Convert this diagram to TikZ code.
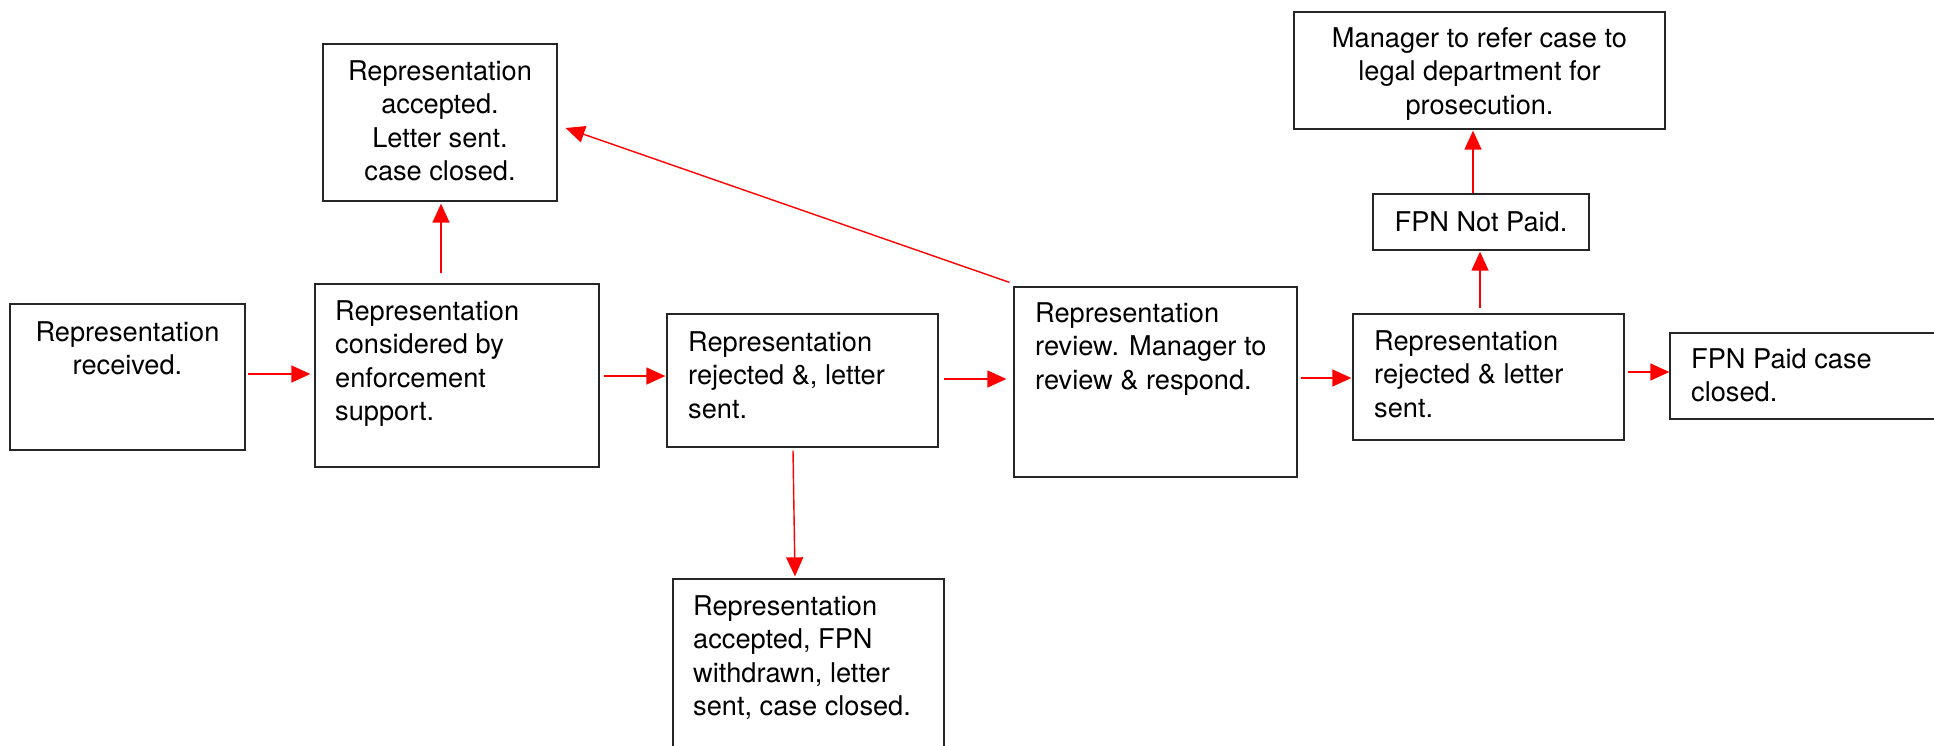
\documentclass[tikz,border=0pt]{standalone}
\usepackage{fontspec}
\setmainfont{TeX Gyre Heros}
\usetikzlibrary{arrows.meta,calc}
\tikzset{
  box/.style={draw=black!85, line width=1.3pt, inner sep=0pt, rectangle},
  txt/.style={inner sep=0pt, font=\fontsize{27.2}{33.5}\selectfont},
  arr/.style={draw=red, line width=1.4pt, -{Triangle[length=19pt,width=17pt]}, fill=red}
}
\newcommand{\linesL}[1]{\begin{tabular}[t]{@{}l@{}}#1\end{tabular}}
\newcommand{\linesC}[1]{\begin{tabular}[t]{@{}c@{}}#1\end{tabular}}
\begin{document}
\begin{tikzpicture}[x=1pt,y=-1pt]
\useasboundingbox (0,0) rectangle (1934,745);
\clip (0,0) rectangle (1934,745);
% boxes
\node[box, minimum width=235pt, minimum height=146pt] (b1) at (127.5,377) {};
\node[box, minimum width=284pt, minimum height=183pt] (b2) at (457,375.5) {};
\node[box, minimum width=234pt, minimum height=157pt] (b3) at (440,122.5) {};
\node[box, minimum width=271pt, minimum height=133pt] (b4) at (802.5,380.5) {};
\node[box, minimum width=271pt, minimum height=221pt] (b5) at (808.5,689.5) {};
\node[box, minimum width=283pt, minimum height=190pt] (b6) at (1155.5,382) {};
\node[box, minimum width=271pt, minimum height=126pt] (b7) at (1488.5,377) {};
\node[box, minimum width=330pt, minimum height=86pt] (b8) at (1835,376) {};
\node[box, minimum width=216pt, minimum height=56pt] (b9) at (1481,222) {};
\node[box, minimum width=371pt, minimum height=117pt] (b10) at (1479.5,70.5) {};
% texts
\node[txt, anchor=base] (t1) at (127.5,341) {\linesC{Representation\\received.}};
\node[txt, anchor=base west] (t2) at (335,320) {\linesL{Representation\\considered by\\enforcement\\support.}};
\node[txt, anchor=base] (t3) at (440,80) {\linesC{Representation\\accepted.\\Letter sent.\\case closed.}};
\node[txt, anchor=base west] (t4) at (688,351) {\linesL{Representation\\rejected \&, letter\\sent.}};
\node[txt, anchor=base west] (t5) at (693,615) {\linesL{Representation\\accepted, FPN\\withdrawn, letter\\sent, case closed.}};
\node[txt, anchor=base west] (t6) at (1035,322) {\linesL{Representation\\review. Manager to\\review \& respond.}};
\node[txt, anchor=base west] (t7) at (1374,350) {\linesL{Representation\\rejected \& letter\\sent.}};
\node[txt, anchor=base west] (t8) at (1691,368) {\linesL{FPN Paid case\\closed.}};
\node[txt, anchor=base] (t9) at (1481,231) {FPN Not Paid.};
\node[txt, anchor=base] (t10) at (1479.5,47) {\linesC{Manager to refer case to\\legal department for\\prosecution.}};
% connectors
\draw[arr] ($(b1.east)+(2.5,-3)$) -- ($(b2.west)+(-4,-1.5)$);
\draw[arr] ($(b2.north)+(-16,-10)$) -- ($(b3.south)+(1,2)$);
\draw[arr] ($(b2.east)+(4,0.5)$) -- ($(b4.west)+(-1,-4.5)$);
\draw[arr] ($(b4.south)+(-9.5,3)$) -- ($(b5.north)+(-13.5,-2)$);
\draw[arr] ($(b4.east)+(5,-1.5)$) -- ($(b6.west)+(-7,-3)$);
\draw[arr] ($(b6.north west)+(-4,-4)$) -- ($(b3.east)+(8,5.5)$);
\draw[arr] ($(b6.east)+(3,-4)$) -- ($(b7.west)+(-1,1)$);
\draw[arr] ($(b7.north)+(-8.5,-5)$) -- ($(b9.south)+(-1,1)$);
\draw[arr] ($(b9.north)+(-8,0)$) -- ($(b10.south)+(-6.5,1)$);
\draw[arr] ($(b7.east)+(3,-5)$) -- ($(b8.west)+(0,-4)$);
\end{tikzpicture}
\end{document}
